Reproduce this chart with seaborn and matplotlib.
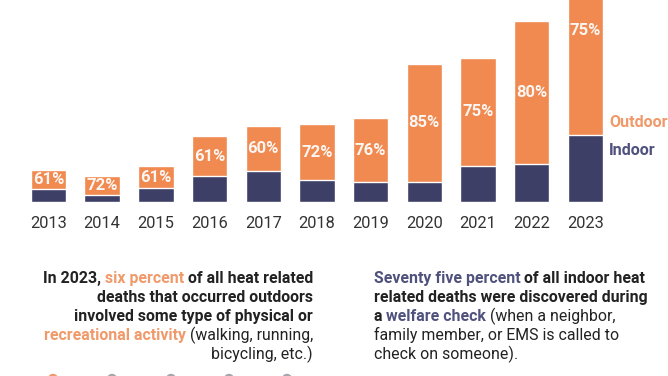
# Heat deaths by year: indoor vs outdoor (stacked bars) with two notes below
import matplotlib
matplotlib.use('Agg')
import matplotlib.pyplot as plt
from matplotlib.patches import Ellipse
import seaborn as sns
import pandas as pd

sns.set_style('white')
plt.rcParams['font.family'] = ['Roboto', 'DejaVu Sans']

years = ['2013', '2014', '2015', '2016', '2017', '2018', '2019', '2020', '2021', '2022', '2023']
indoor = [30, 17, 33, 60, 72, 51, 47, 48, 85, 88, 158]
outdoor = [46, 44, 51, 94, 107, 131, 150, 275, 254, 337, 487]
outdoor_pct = ['61%', '72%', '61%', '61%', '60%', '72%', '76%', '85%', '75%', '80%', '75%']

ORANGE = '#F08A50'
NAVY = '#3E3F66'
ORANGE_TXT = '#F0996A'
NAVY_TXT = '#50527E'
DARK = '#222222'

df = pd.DataFrame({'year': years, 'indoor': indoor, 'outdoor': outdoor})
df['total'] = df['indoor'] + df['outdoor']

W, H = 668, 376
fig = plt.figure(figsize=(W / 100, H / 100), dpi=100)
ax = fig.add_axes([21.6 / W, (H - 202) / H, 590.7 / W, 202 / H])

sns.barplot(data=df, x='year', y='total', color=ORANGE, saturation=1, width=0.66, ax=ax)
sns.barplot(data=df, x='year', y='indoor', color=NAVY, saturation=1, width=0.66, ax=ax)

for i, (ind, out, lab) in enumerate(zip(indoor, outdoor, outdoor_pct)):
    ax.text(i, ind + out / 2, lab, ha='center', va='center', color='#FBF6F2',
            fontsize=12, fontweight='bold')

ax.set_ylim(0, 474)
ax.set_xlim(-0.5, len(years) - 0.5)
ax.set_xlabel('')
ax.set_ylabel('')
ax.set_yticks([])
ax.tick_params(axis='x', length=0, pad=10, labelsize=11.8, labelcolor='#333333')
sns.despine(ax=ax, left=True, bottom=True)

# legend as plain text to the right of the last bar
fig.text(609 / W, 1 - 127 / H, 'Outdoor', color=ORANGE_TXT, fontsize=11.6, fontweight='bold')
fig.text(609 / W, 1 - 155 / H, 'Indoor', color=NAVY_TXT, fontsize=11.6, fontweight='bold')

renderer = fig.canvas.get_renderer()
GAP = 3.7


def draw_line(x_px, y_px, segs, ha):
    order = segs if ha == 'left' else segs[::-1]
    x = x_px
    for text, color, weight in order:
        t = fig.text(x / W, 1 - y_px / H, text, ha=ha, va='baseline', color=color,
                     fontsize=11.45, fontweight=weight)
        bb = t.get_window_extent(renderer)
        x = bb.x1 + GAP if ha == 'left' else bb.x0 - GAP


left_note = [
    [('In 2023,', DARK, 'bold'), ('six percent', ORANGE_TXT, 'bold'), ('of all heat related', DARK, 'bold')],
    [('deaths that occurred outdoors', DARK, 'bold')],
    [('involved some type of physical or', DARK, 'bold')],
    [('recreational activity', ORANGE_TXT, 'bold'), ('(walking, running,', DARK, 'normal')],
    [('bicycling, etc.)', DARK, 'normal')],
]
right_note = [
    [('Seventy five percent', NAVY_TXT, 'bold'), ('of all indoor heat', DARK, 'bold')],
    [('related deaths were discovered during', DARK, 'bold')],
    [('a', DARK, 'bold'), ('welfare check', NAVY_TXT, 'bold'), ('(when a neighbor,', DARK, 'normal')],
    [('family member, or EMS is called to', DARK, 'normal')],
    [('check on someone).', DARK, 'normal')],
]
baselines = [283, 302, 321, 340, 359]
for segs, y in zip(left_note, baselines):
    draw_line(313, y, segs, 'right')
for segs, y in zip(right_note, baselines):
    draw_line(374, y, segs, 'left')

# page dots at the bottom edge
dot_x = [53, 112, 171, 229, 287]
dot_c = [ORANGE_TXT, '#A3A7AD', '#A3A7AD', '#A3A7AD', '#A3A7AD']
for dx, dc in zip(dot_x, dot_c):
    fig.add_artist(Ellipse((dx / W, 1 - 379 / H), 9 / W, 9 / H, color=dc,
                           transform=fig.transFigure))

fig.savefig('out.png', dpi=100)
